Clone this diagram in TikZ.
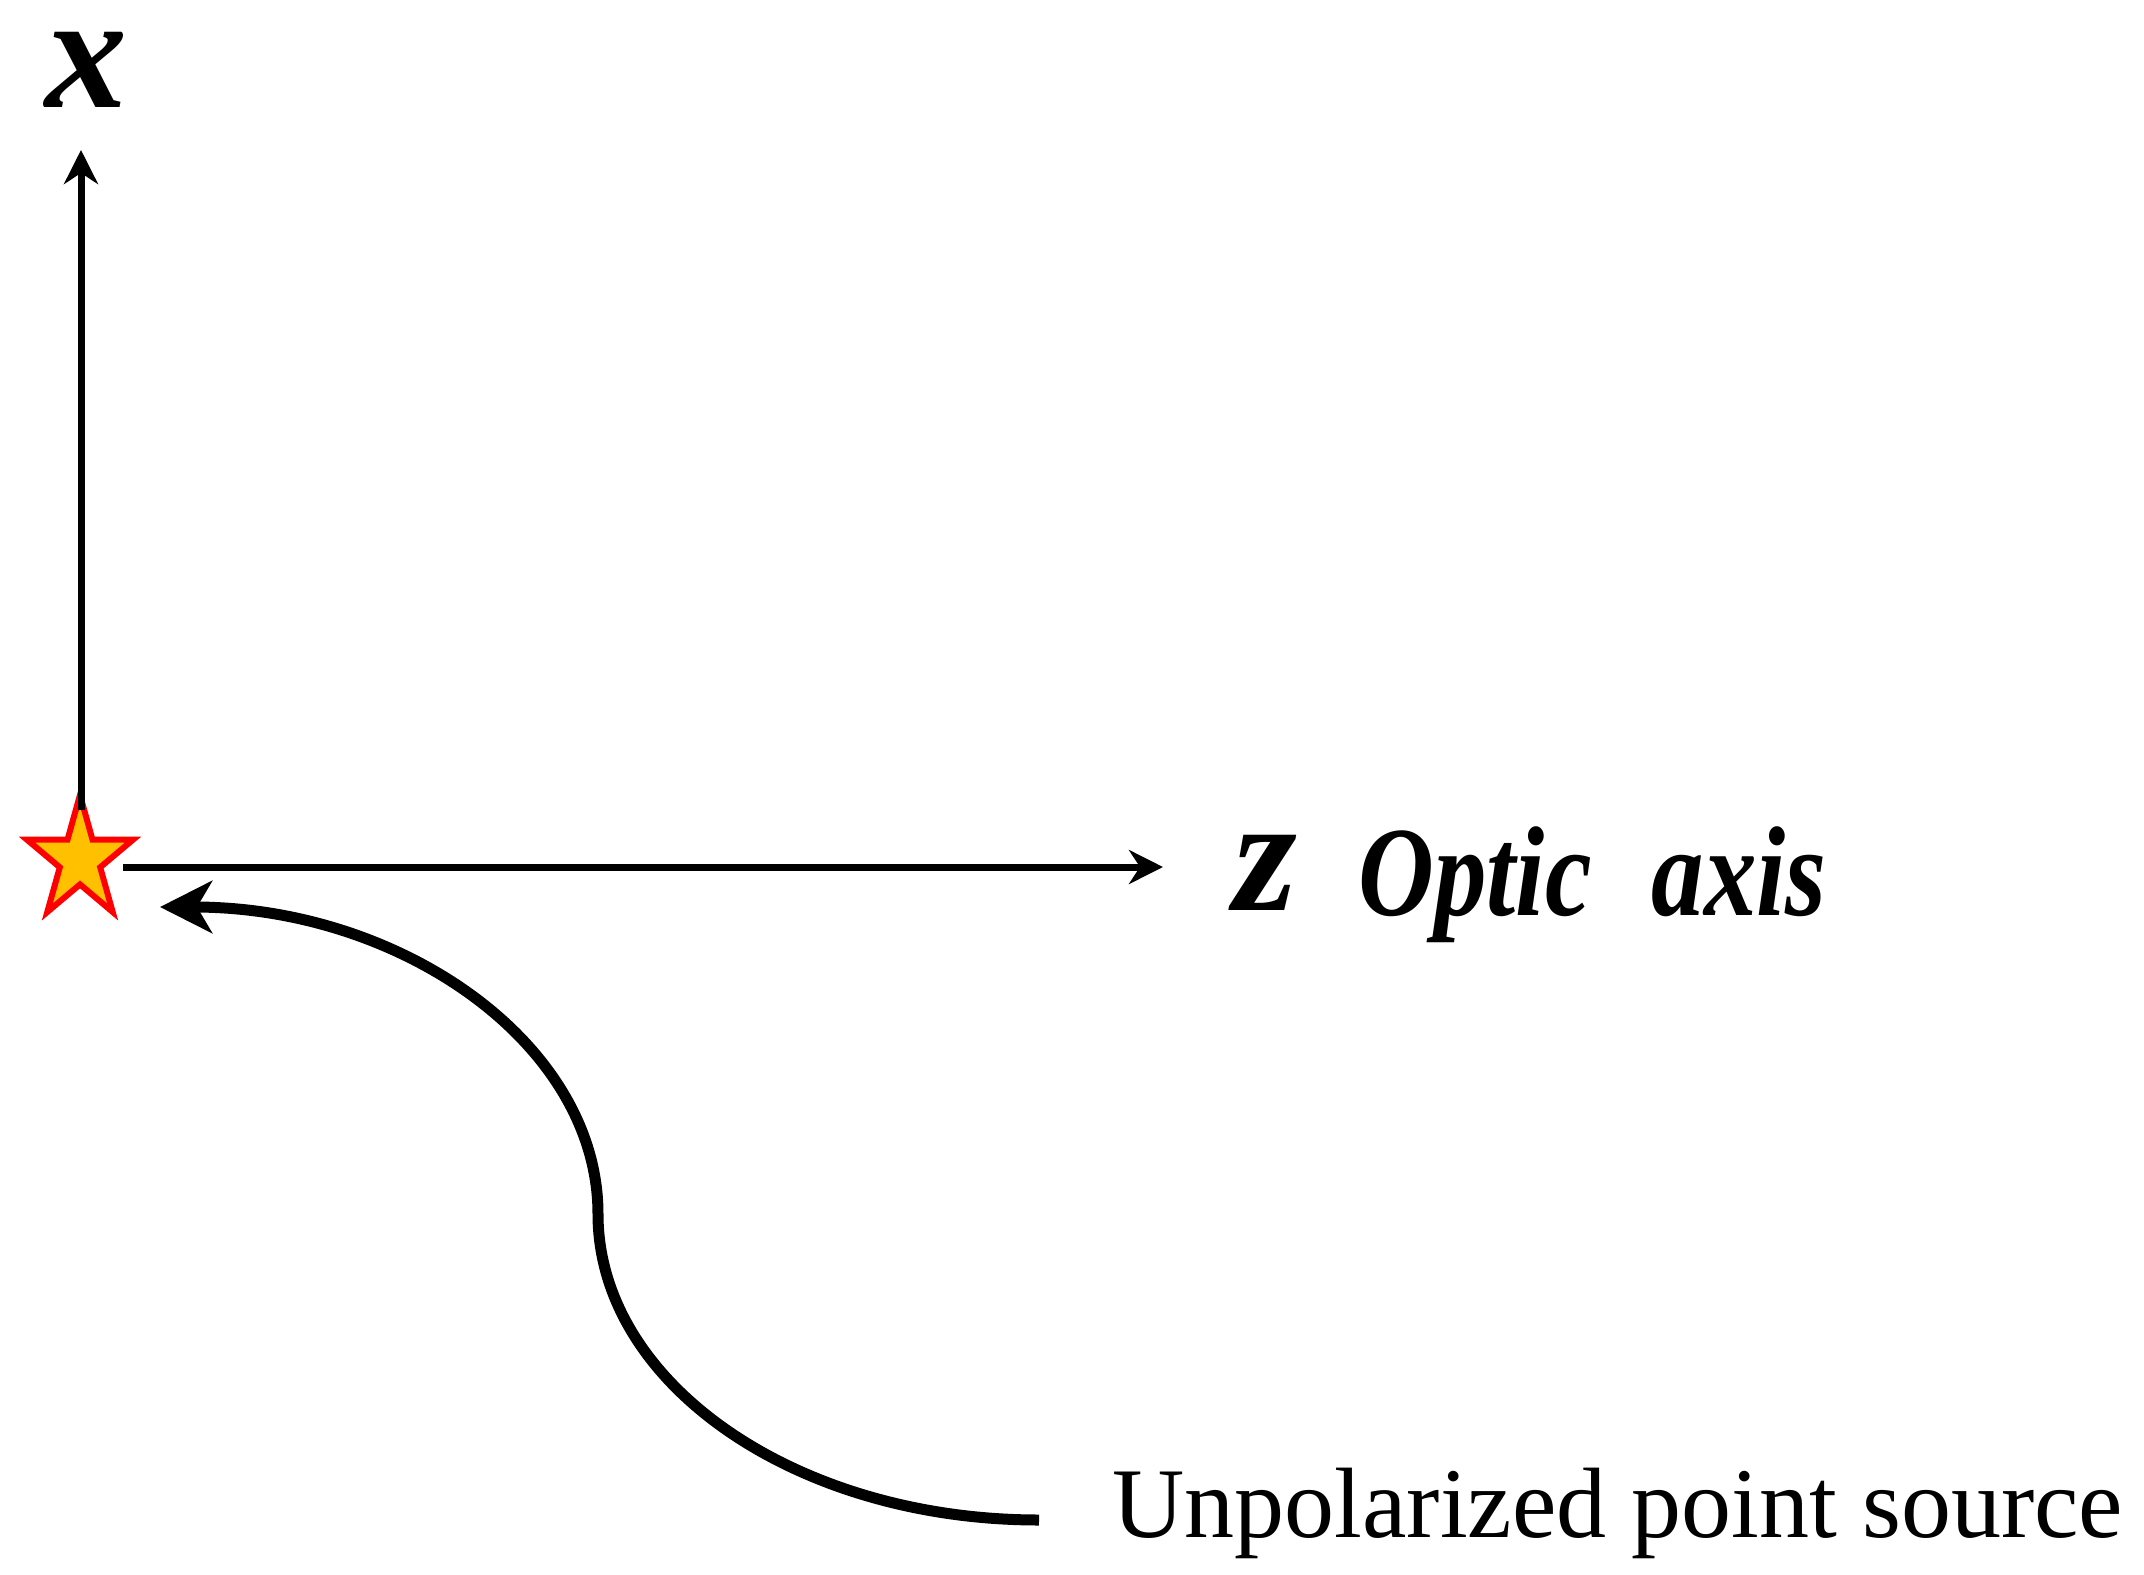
\documentclass[tikz,border=0pt]{standalone}
\usepackage{fontspec}
\setmainfont{Liberation Serif}
\newfontfamily\condfont{Liberation Serif}[FakeStretch=0.82]
\usetikzlibrary{arrows.meta}
\definecolor{staryellow}{HTML}{FFC000}
\definecolor{starred}{HTML}{FF0000}
\begin{document}
\begin{tikzpicture}[x=0.5pt,y=-0.5pt,
  axisline/.style={line width=3.5pt,-{Stealth[length=17pt,width=17pt,inset=5.5pt]}},
  curvearrow/.style={line width=5.5pt,-{Stealth[length=26pt,width=26pt,inset=7.5pt]}},
  starstyle/.style={draw=starred,fill=staryellow,line width=3pt,miter limit=10},
  axlabel/.style={inner sep=0pt,font=\bfseries\itshape\fontsize{82}{90}\selectfont},
  optlabel/.style={inner sep=0pt,font=\condfont\bfseries\itshape\fontsize{64}{70}\selectfont},
  srclabel/.style={inner sep=0pt,font=\fontsize{50}{60}\selectfont}]
\useasboundingbox (0,0) rectangle (2144,1575);
% star (point source)
\draw[starstyle] (80,795) -- (92.5,839.7) -- (133,839.7) -- (100.2,867.3) -- (112.7,912)
  -- (80,884.4) -- (47.3,912) -- (59.8,867.3) -- (27,839.7) -- (67.5,839.7) -- cycle;
\coordinate (star) at (80,860);
\coordinate (xbase) at (81,810);
\coordinate (xtip) at (81,150);
\coordinate (zbase) at (123,867);
\coordinate (ztip) at (1163,867);
\coordinate (srcend) at (1039,1520);
\coordinate (curvetip) at (160,907);
% axes
\draw[axisline] (xbase) -- (xtip);
\draw[axisline] (zbase) -- (ztip);
% labels
\node[axlabel,anchor=base] (xlab) at (87,107) {x};
\node[axlabel,anchor=base] (zlab) at (1265,910) {z};
\node[optlabel,anchor=base west] (optic) at (1358,915) {Optic\hspace{30pt}axis};
\node[srclabel,anchor=base west] (src) at (1112,1537) {Unpolarized point source};
% curved pointer
\draw[curvearrow] (srcend) .. controls (795.4,1520) and (598,1383) .. (598,1214)
  .. controls (598,1044.4) and (401.9,907) .. (curvetip);
\end{tikzpicture}
\end{document}
